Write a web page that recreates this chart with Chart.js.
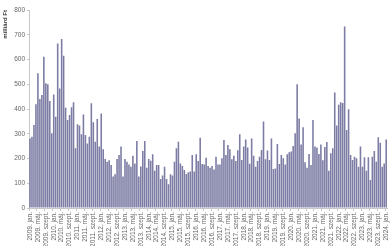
<!DOCTYPE html>
<html>
<head>
<meta charset="utf-8">
<script src="https://cdn.jsdelivr.net/npm/chart.js@4"></script>
<style>
  html, body { margin: 0; padding: 0; background: #fff; overflow: hidden; }
  canvas { display: block; }
</style>
</head>
<body>
<canvas id="chart" width="395" height="246"></canvas>
<script>
    const years = [2009, 2010, 2011, 2012, 2013, 2014, 2015, 2016, 2017, 2018, 2019, 2020, 2021, 2022, 2023, 2024];
    const monthNames = ['jan.', 'febr.', 'márc.', 'ápr.', 'máj.', 'jún.', 'júl.', 'aug.', 'szept.', 'okt.', 'nov.', 'dec.'];

    // monthly values, milliárd Ft (2009. jan. - 2024. jan.)
    const values = [
        281, 288, 335, 419, 544, 440, 457, 611, 504, 500, 432, 302,   // 2009
        459, 369, 665, 483, 683, 615, 405, 356, 376, 407, 427, 241,   // 2010
        338, 333, 298, 378, 295, 261, 288, 423, 346, 268, 360, 248,   // 2011
        382, 237, 198, 187, 193, 174, 127, 136, 198, 214, 248, 127,   // 2012
        198, 187, 176, 167, 211, 180, 271, 127, 168, 230, 271, 163,   // 2013
        198, 191, 217, 151, 174, 174, 117, 131, 167, 117, 96, 136,    // 2014
        131, 187, 241, 268, 180, 170, 154, 137, 144, 147, 214, 147,   // 2015
        217, 190, 284, 178, 176, 203, 170, 163, 170, 156, 207, 176,   // 2016
        176, 201, 275, 214, 255, 237, 197, 211, 190, 233, 298, 194,   // 2017
        248, 277, 244, 179, 281, 211, 167, 190, 207, 234, 349, 197,   // 2018
        232, 194, 281, 158, 160, 259, 178, 214, 201, 176, 217, 225,   // 2019
        228, 251, 302, 500, 362, 257, 326, 185, 163, 218, 174, 356,   // 2020
        248, 244, 218, 257, 193, 246, 267, 151, 221, 241, 467, 333,   // 2021
        417, 427, 424, 733, 315, 399, 214, 194, 207, 201, 167, 248,   // 2022
        167, 205, 151, 205, 113, 207, 230, 187, 286, 264, 167, 180,   // 2023
        277                                                           // 2024
    ];

    const labels = values.map((v, i) => {
        const y = years[Math.floor(i / 12)];
        return y + '. ' + monthNames[i % 12];
    });

    const textColor = '#666';
    const axisColor = '#c8c8c8';

    new Chart(document.getElementById('chart'), {
        type: 'bar',
        data: {
            labels: labels,
            datasets: [{
                label: 'milliárd Ft',
                data: values,
                backgroundColor: '#7c7ca4',
                borderWidth: 0,
                barPercentage: 0.8,
                categoryPercentage: 1
            }]
        },
        options: {
            responsive: false,
            animation: false,
            layout: { padding: { top: 10, right: 0, left: 2, bottom: 0 } },
            plugins: {
                legend: { display: false },
                tooltip: { enabled: false }
            },
            scales: {
                x: {
                    offset: true,
                    border: { color: axisColor },
                    grid: {
                        drawOnChartArea: false,
                        tickLength: 3,
                        color: ctx => (ctx.index % 4 === 0 ? axisColor : 'rgba(0,0,0,0)')
                    },
                    ticks: {
                        autoSkip: false,
                        minRotation: 90,
                        maxRotation: 90,
                        padding: 1,
                        color: textColor,
                        font: { family: 'Liberation Sans', size: 6.5 },
                        callback: function(val, i) {
                            return i % 4 === 0 ? labels[i] : '';
                        }
                    },
                    afterFit: s => { s.height = 38; }
                },
                y: {
                    min: 0,
                    max: 800,
                    border: { color: axisColor },
                    grid: { drawOnChartArea: false, tickLength: 2, color: axisColor },
                    ticks: {
                        stepSize: 100,
                        padding: 2,
                        color: textColor,
                        font: { family: 'Liberation Sans', size: 6.5 }
                    },
                    title: {
                        display: true,
                        text: 'milliárd Ft',
                        align: 'end',
                        color: '#333',
                        padding: 0,
                        font: { family: 'Liberation Sans', size: 6, weight: 'bold' }
                    },
                    afterFit: s => { s.width = 27; }
                }
            }
        }
    });
</script>
</body>
</html>
